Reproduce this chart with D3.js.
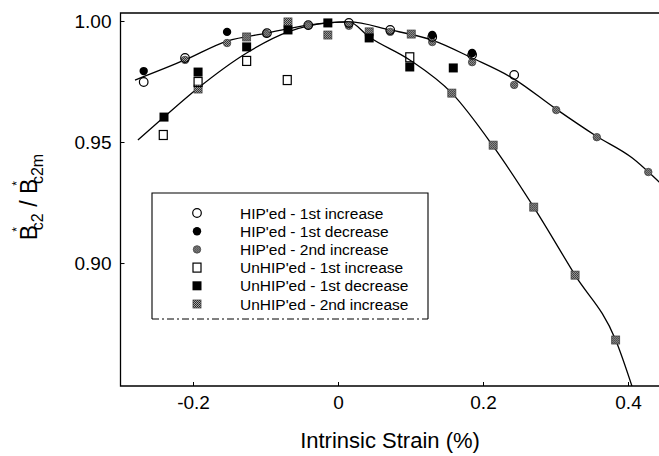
<!DOCTYPE html>
<html>
<head>
<meta charset="utf-8">
<script src="https://cdn.jsdelivr.net/npm/d3@7"></script>
<style>
  body { margin: 0; background: #fff; }
  svg { display: block; font-family: "Liberation Sans", Arial, sans-serif; }
</style>
</head>
<body>
<svg width="659" height="456"></svg>
<script>
// values: [intrinsic strain (%), Bc2*/Bc2m*]
const hipInc1 = [[-0.268, 0.9748], [-0.211, 0.9847], [-0.098, 0.9950], [-0.041, 0.9983],
  [0.015, 0.9992], [0.072, 0.9963], [0.130, 0.9934], [0.185, 0.9860], [0.243, 0.9777]];
const hipDec1 = [[-0.268, 0.9793], [-0.153, 0.9955], [0.130, 0.9942], [0.185, 0.9868]];
const hipInc2 = [[-0.211, 0.9839], [-0.153, 0.9909], [-0.099, 0.9947], [-0.041, 0.9980],
  [0.015, 0.9980], [0.072, 0.9955], [0.130, 0.9913], [0.185, 0.9830], [0.243, 0.9736],
  [0.301, 0.9632], [0.357, 0.9520], [0.428, 0.9376]];
const unhipInc1 = [[-0.241, 0.9529], [-0.193, 0.9748], [-0.126, 0.9835], [-0.070, 0.9756],
  [0.099, 0.9850]];
const unhipDec1 = [[-0.240, 0.9603], [-0.193, 0.9789], [-0.126, 0.9893], [-0.069, 0.9963],
  [-0.014, 0.9992], [0.043, 0.9930], [0.099, 0.9810], [0.159, 0.9806]];
const unhipInc2 = [[-0.193, 0.9719], [-0.126, 0.9934], [-0.069, 0.9996], [-0.014, 0.9942],
  [0.043, 0.9955], [0.101, 0.9946], [0.157, 0.9702], [0.214, 0.9487], [0.270, 0.9231],
  [0.327, 0.8950], [0.383, 0.8682]];

// fitted curves
const fitHip = [[-0.280, 0.9756], [-0.211, 0.9839], [-0.153, 0.9917], [-0.098, 0.9950],
  [-0.041, 0.9983], [0.015, 0.9996], [0.072, 0.9963], [0.130, 0.9921], [0.185, 0.9847],
  [0.243, 0.9760], [0.299, 0.9640], [0.356, 0.9525], [0.406, 0.9434], [0.443, 0.9335],
  [0.480, 0.9230]];
const fitUnhip = [[-0.276, 0.9508], [-0.240, 0.9603], [-0.193, 0.9723], [-0.126, 0.9868],
  [-0.069, 0.9955], [-0.014, 0.9992], [0.015, 0.9996], [0.043, 0.9934], [0.099, 0.9839],
  [0.157, 0.9702], [0.214, 0.9483], [0.270, 0.9231], [0.327, 0.8950], [0.383, 0.8682],
  [0.410, 0.8450]];

const legendNames = ["HIP'ed - 1st increase", "HIP'ed - 1st decrease", "HIP'ed - 2nd increase",
  "UnHIP'ed - 1st increase", "UnHIP'ed - 1st decrease", "UnHIP'ed - 2nd increase"];
const xTicks = [-0.2, 0, 0.2, 0.4];
const yTicks = [0.90, 0.95, 1.00];

const svg = d3.select("svg");

// plot frame (right edge lies outside the picture)
const plotLeft = 120.5, plotTop = 13, plotBottom = 386;
const x = d3.scaleLinear().domain([-0.3, 0.5]).range([plotLeft, 700.5]);
const y = d3.scaleLinear().domain([0.8492, 1.0033]).range([plotBottom, plotTop]);

const defs = svg.append("defs");
defs.append("clipPath").attr("id", "plotclip")
  .append("rect").attr("x", plotLeft).attr("y", plotTop)
  .attr("width", 600).attr("height", plotBottom - plotTop);

// halftone grey like the scanned markers
const pat = defs.append("pattern").attr("id", "tone")
  .attr("width", 2).attr("height", 2).attr("patternUnits", "userSpaceOnUse");
pat.append("rect").attr("width", 2).attr("height", 2).attr("fill", "#aaa");
pat.append("rect").attr("width", 1).attr("height", 1).attr("fill", "#222");
pat.append("rect").attr("x", 1).attr("y", 1).attr("width", 1).attr("height", 1).attr("fill", "#333");

// frame
svg.append("path")
  .attr("d", `M700,${plotTop}H${plotLeft}V${plotBottom}H700`)
  .attr("fill", "none").attr("stroke", "#000").attr("stroke-width", 1.3);

// axes, ticks pointing inward
const xAxis = svg.append("g")
  .attr("transform", `translate(0,${plotBottom})`)
  .call(d3.axisBottom(x).tickValues(xTicks).tickSize(-4).tickPadding(10)
    .tickFormat(d => d === 0 ? "0" : d.toFixed(1)));
const yAxis = svg.append("g")
  .attr("transform", `translate(${plotLeft},0)`)
  .call(d3.axisLeft(y).tickValues(yTicks).tickSize(-4).tickPadding(9)
    .tickFormat(d => d.toFixed(2)));
[xAxis, yAxis].forEach(a => {
  a.select(".domain").remove();
  a.selectAll("text").attr("font-size", 19).attr("fill", "#000")
    .attr("font-family", "'Liberation Sans', Arial, sans-serif");
  a.selectAll("line").attr("stroke", "#000");
});

// axis titles
svg.append("text")
  .attr("x", 390).attr("y", 448)
  .attr("text-anchor", "middle").attr("font-size", 22)
  .text("Intrinsic Strain (%)");

const yt = svg.append("text")
  .attr("transform", "translate(37,197) rotate(-90)")
  .attr("text-anchor", "middle").attr("font-size", 23);
yt.append("tspan").text("B");
yt.append("tspan").attr("font-size", 12).attr("dy", -16).attr("dx", -7).text("*");
yt.append("tspan").attr("font-size", 16).attr("dy", 22).attr("dx", -3).text("c2");
yt.append("tspan").attr("dy", -6).text(" / B");
yt.append("tspan").attr("font-size", 12).attr("dy", -16).attr("dx", -7).text("*");
yt.append("tspan").attr("font-size", 16).attr("dy", 22).attr("dx", -3).text("c2m");

// fitted lines
const line = d3.line().x(d => x(d[0])).y(d => y(d[1])).curve(d3.curveMonotoneX);
const curves = svg.append("g").attr("clip-path", "url(#plotclip)");
[fitHip, fitUnhip].forEach(c => {
  curves.append("path").attr("d", line(c))
    .attr("fill", "none").attr("stroke", "#000").attr("stroke-width", 1.3);
});

// marker drawing
function marker(g, kind) {
  if (kind === "openCircle") {
    g.append("circle").attr("r", 4.3).attr("fill", "none").attr("stroke", "#000").attr("stroke-width", 1.2);
  } else if (kind === "dot") {
    g.append("circle").attr("r", 4.2).attr("fill", "#000");
  } else if (kind === "greyDot") {
    g.append("path").attr("d", d3.symbol(d3.symbolCircle, 44)()).attr("fill", "url(#tone)")
      .attr("stroke", "#444").attr("stroke-width", 0.8);
  } else if (kind === "openSquare") {
    g.append("rect").attr("x", -4).attr("y", -4.5).attr("width", 8).attr("height", 9)
      .attr("fill", "none").attr("stroke", "#000").attr("stroke-width", 1.2);
  } else if (kind === "square") {
    g.append("rect").attr("x", -4.5).attr("y", -4.5).attr("width", 9).attr("height", 9).attr("fill", "#000");
  } else {
    g.append("rect").attr("x", -4).attr("y", -4).attr("width", 8).attr("height", 8)
      .attr("fill", "url(#tone)").attr("stroke", "#444").attr("stroke-width", 0.8);
  }
}

const series = [
  { data: hipInc1, kind: "openCircle" },
  { data: hipDec1, kind: "dot" },
  { data: hipInc2, kind: "greyDot" },
  { data: unhipInc1, kind: "openSquare" },
  { data: unhipDec1, kind: "square" },
  { data: unhipInc2, kind: "greySquare" }
];

// draw greys first so the open symbols stay visible on top
const order = [5, 2, 4, 1, 3, 0];
const pts = svg.append("g").attr("clip-path", "url(#plotclip)");
order.forEach(i => {
  pts.append("g").selectAll("g")
    .data(series[i].data)
    .join("g")
    .attr("transform", d => `translate(${x(d[0])},${y(d[1])})`)
    .each(function () { marker(d3.select(this), series[i].kind); });
});

// legend
const lg = svg.append("g");
lg.append("path")
  .attr("d", "M152,319V193H428V319")
  .attr("fill", "none").attr("stroke", "#000").attr("stroke-width", 1.1);
lg.append("line").attr("x1", 152).attr("x2", 428).attr("y1", 319).attr("y2", 319)
  .attr("stroke", "#000").attr("stroke-width", 1).attr("stroke-dasharray", "7,3,2,3");
legendNames.forEach((name, i) => {
  const cy = 213 + i * 18.2;
  marker(lg.append("g").attr("transform", `translate(197,${cy})`), series[i].kind);
  lg.append("text").attr("x", 240).attr("y", cy + 5.5)
    .attr("font-size", 15.5).text(name);
});
</script>
</body>
</html>
